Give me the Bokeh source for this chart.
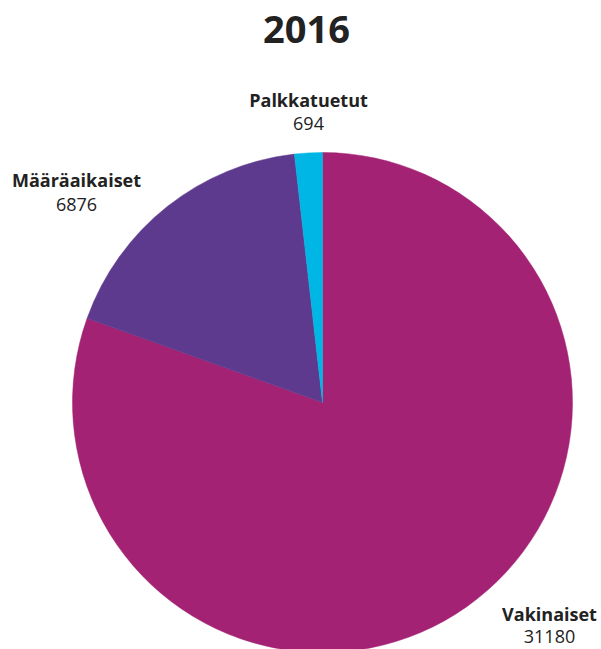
import numpy as np
from bokeh.plotting import figure
from bokeh.models import ColumnDataSource, Range1d
from bokeh.core.properties import value
from bokeh.embed import file_html
from bokeh.resources import INLINE

title_text = "2016"
categories = ["Vakinaiset", "Määräaikaiset", "Palkkatuetut"]
counts = [31180, 6876, 694]
colors = ["#A32274", "#5E3A8E", "#00B6E4"]

W, H = 601, 649
p = figure(width=W, height=H, output_backend="svg", toolbar_location=None,
           x_range=Range1d(0, W), y_range=Range1d(0, H), min_border=0)
p.axis.visible = False
p.grid.visible = False
p.outline_line_color = None
p.background_fill_color = "white"

vals = np.array(counts, dtype=float)
ang = vals / vals.sum() * 2 * np.pi
cum = np.cumsum(ang)
ends = np.pi / 2 - np.concatenate([[0], cum[:-1]])
starts = np.pi / 2 - cum

def img(x, y):
    return x, H - y

cx, cy = img(322, 402)
r = 250
src = ColumnDataSource(dict(start=starts, end=ends, color=colors, cat=categories))
p.wedge(x=cx, y=cy, radius=r, start_angle="start", end_angle="end",
        fill_color="color", line_color="color", line_width=0.5, source=src)

FS = 18
# label positions (image coords) for each category: x, name baseline, value baseline
label_pos = {
    "Vakinaiset": (549, 619, 641),
    "Määräaikaiset": (76, 185, 209),
    "Palkkatuetut": (308, 105, 128),
}
mid = 0.3 * FS
nx, ny, vx, vy, nt, vt = [], [], [], [], [], []
for c, v in zip(categories, counts):
    x, yn, yv = label_pos[c]
    a, b = img(x, yn - mid)
    nx.append(a); ny.append(b); nt.append(c)
    a, b = img(x, yv - mid)
    vx.append(a); vy.append(b); vt.append(str(v))

p.text(x=nx, y=ny, text=nt, text_font=value("Open Sans"), text_font_style="bold",
       text_font_size=f"{FS}px", text_color="#222222", text_align="center",
       text_baseline="middle")
p.text(x=vx, y=vy, text=vt, text_font=value("Open Sans"), text_font_style="normal",
       text_font_size=f"{FS}px", text_color="#222222", text_align="center",
       text_baseline="middle")

TS = 38
tx, ty = img(306, 40 - 0.3 * TS)
p.text(x=[tx], y=[ty], text=[title_text], text_font=value("Open Sans"),
       text_font_style="bold", text_font_size=f"{TS}px", text_color="#222222",
       text_align="center", text_baseline="middle")

open("out.html", "w").write(file_html(p, INLINE))
